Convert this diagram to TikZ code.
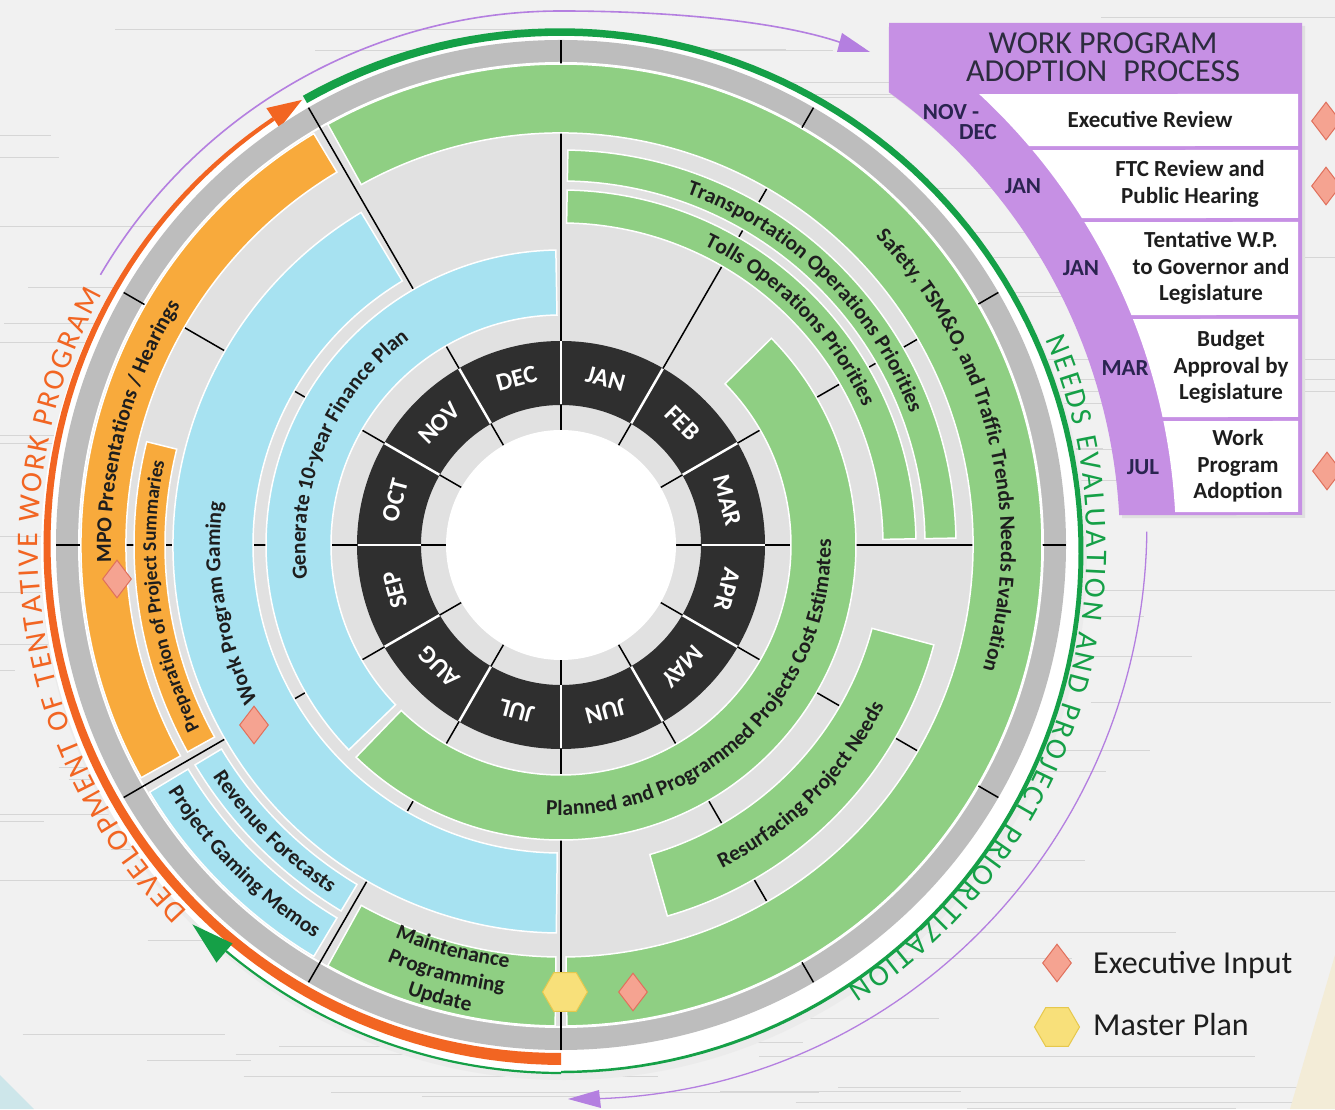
\documentclass[tikz,border=0pt]{standalone}
\usepackage{fontspec}
\setmainfont{Carlito}
\usetikzlibrary{decorations.text,shapes.geometric}
\definecolor{bandgreen}{HTML}{8FCF83}
\definecolor{bandblue}{HTML}{A7E2F1}
\definecolor{bandorange}{HTML}{F8AA3C}
\definecolor{basegray}{HTML}{E1E1E1}
\definecolor{ringgray}{HTML}{BDBDBD}
\definecolor{monthblack}{HTML}{2F2F2F}
\definecolor{boxpurple}{HTML}{C690E4}
\definecolor{linepurple}{HTML}{B47FE0}
\definecolor{arcgreen}{HTML}{15A047}
\definecolor{arcorange}{HTML}{F26522}
\definecolor{navy}{HTML}{2A2450}
\definecolor{headc}{HTML}{2C2C3E}
\definecolor{txtdark}{HTML}{1E1E1E}
\definecolor{woodbg}{HTML}{F1F1F1}
\definecolor{diafill}{HTML}{F5A391}
\definecolor{diadraw}{HTML}{E0705C}
\definecolor{hexfill}{HTML}{F8E07A}
\definecolor{hexdraw}{HTML}{E6C84C}
\definecolor{cornerblue}{HTML}{CDE6EA}
\definecolor{cornerbeige}{HTML}{F3ECD7}
\newcommand\bandfont{\fontsize{21.5}{21.5}\selectfont\bfseries}
\newcommand\smallbandfont{\fontsize{19.5}{19.5}\selectfont\bfseries}
\newcommand\outerfont{\fontsize{30}{30}\selectfont}
\newcommand\band[5]{\filldraw[fill=#5,draw=white,line width=1.5] (#3:#2) arc[start angle=#3,end angle=#4,radius=#2] -- (#4:#1) arc[start angle=#4,end angle=#3,radius=#1] -- cycle;}
\newcommand\arctext[5]{\path[decorate,decoration={text along path,text align=center,text color=txtdark,text={|#4|#5}}] (#2:#1) arc[start angle=#2,end angle=#3,radius=#1];}
\tikzset{
 monthtxt/.style={text=white,font=\fontsize{25}{25}\selectfont\bfseries,inner sep=0},
 boxmonth/.style={text=navy,font=\fontsize{23}{23}\selectfont\bfseries,inner sep=0},
 rowtxt/.style={text=txtdark,font=\fontsize{23}{26.5}\selectfont\bfseries,align=center,inner sep=0},
 headtxt/.style={text=headc,font=\fontsize{32}{32}\selectfont,inner sep=0},
 legtxt/.style={text=txtdark,font=\fontsize{32}{32}\selectfont,anchor=base west,inner sep=0},
 execdia/.style={diamond,draw=diadraw,fill=diafill,line width=1,minimum width=29,minimum height=38,inner sep=0},
 masterhex/.style={regular polygon,regular polygon sides=6,draw=hexdraw,fill=hexfill,line width=1,minimum size=45,inner sep=0}
}
\begin{document}
\begin{tikzpicture}[x=1pt,y=1pt]
\useasboundingbox (0,0) rectangle (1335,1109);
\fill[woodbg] (0,0) rectangle (1335,1109);
\pgfmathsetseed{11}
\foreach \i in {1,...,110}{
 \pgfmathsetmacro\yy{rnd*1109}
 \pgfmathsetmacro\xa{rnd*1335-200}
 \pgfmathsetmacro\ln{100+rnd*500}
 \draw[black!16,line width=0.7] (\xa,\yy) -- ++(\ln,0);
}
\fill[cornerblue] (0,0) -- (0,34) -- (34,0) -- cycle;
\fill[cornerbeige] (1335,154) -- (1335,0) -- (1290,0) -- cycle;
\begin{scope}[shift={(561,564)}]
 % white backing disc
 \fill[black!8] (3,-12) circle[radius=523];
 \fill[white] (0,-7) circle[radius=520];
 % orange tapered arc
 \fill[arcorange] plot[domain=270:124,samples=90] ({(514+(2+4*(\x-124)/146))*cos(\x)},{(514+(2+4*(\x-124)/146))*sin(\x)}) -- plot[domain=124:270,samples=90] ({(514-(2+4*(\x-124)/146))*cos(\x)},{(514-(2+4*(\x-124)/146))*sin(\x)}) -- cycle;
 \fill[arcorange] (120.2:515) -- (124:503) -- (124:527) -- cycle;
 % green tapered arc
 \begin{scope}[shift={(0,-7)}]
  \fill[arcgreen] plot[domain=119.5:-90,samples=120] ({(520+(1.2+3*(\x+90)/209.5))*cos(\x)},{(520+(1.2+3*(\x+90)/209.5))*sin(\x)}) -- plot[domain=-90:119.5,samples=120] ({(520-(1.2+3*(\x+90)/209.5))*cos(\x)},{(520-(1.2+3*(\x+90)/209.5))*sin(\x)}) -- cycle;
  \draw[arcgreen,line width=2.2] (-90:521) arc[start angle=-90,end angle=-130,radius=521];
  \fill[arcgreen] (225.3:524) -- (230:511) -- (230:536) -- cycle;
 \end{scope}
 % rings
 \fill[ringgray] (0,0) circle[radius=505];
 \filldraw[fill=basegray,draw=white,line width=2] (0,0) circle[radius=482];
 \foreach \a in {0,30,...,330} \draw[black,line width=1.5] (\a:115) -- (\a:505);
 \fill[monthblack,even odd rule] (0,0) circle[radius=204] (0,0) circle[radius=140];
 \foreach \a in {0,30,...,330} \draw[white,line width=2.5] (\a:140.5) -- (\a:203.5);
 \fill[white] (0,0) circle[radius=115];
 % bands
 \band{230}{295}{91}{224}{bandblue}
 \band{230}{295}{-134}{44.5}{bandgreen}
 \band{308}{388}{121}{269.3}{bandblue}
 \band{322}{355}{1}{89}{bandgreen}
 \band{364}{395}{1}{89}{bandgreen}
 \band{322}{386}{-74}{-15}{bandgreen}
 \band{435}{480}{121}{209}{bandorange}
 \band{396}{427}{166}{209}{bandorange}
 \band{396}{427}{211}{239}{bandblue}
 \band{435}{480}{211}{239}{bandblue}
 \band{412}{481}{241}{269.3}{bandgreen}
 \band{412}{481}{-89.3}{119}{bandgreen}
 % band labels
 \arctext{255.5}{200}{114}{\bandfont}{Generate 10-year Finance Plan}
 \arctext{270}{254}{374}{\bandfont}{Planned and Programmed Projects Cost Estimates}
 \arctext{341}{230}{150}{\bandfont}{Work Program Gaming}
 \arctext{450}{205}{125}{\bandfont}{MPO Presentations / Hearings}
 \arctext{405}{217}{158}{\smallbandfont}{Preparation of Project Summaries}
 \arctext{418}{205}{245}{\bandfont}{Revenue Forecasts}
 \arctext{464}{205}{245}{\bandfont}{Project Gaming Memos}
 \arctext{426}{235}{275}{\bandfont}{Maintenance}
 \arctext{451}{235}{275}{\bandfont}{Programming}
 \arctext{475}{235}{275}{\bandfont}{Update}
 \arctext{361}{285}{345}{\bandfont}{Resurfacing Project Needs}
 \arctext{373}{82}{9}{\bandfont}{Transportation Operations Priorities}
 \arctext{332}{82}{7}{\bandfont}{Tolls Operations Priorities}
 \arctext{440}{62}{-34}{\bandfont}{Safety, TSM{\&}O, and Traffic Trends Needs Evaluation}
 % months
 \foreach \a/\m in {75/JAN,45/FEB,15/MAR,-15/APR,-45/MAY,-75/JUN,-105/JUL,-135/AUG,-165/SEP,165/OCT,135/NOV,105/DEC}
  \node[monthtxt,rotate=\a-90] (m\m) at (\a:172) {\m};
 % markers on circle
 \node[execdia] (ei1) at (-444,-34) {};
 \node[execdia] (ei2) at (-307,-180) {};
 \node[execdia] (ei3) at (72,-447) {};
 \node[masterhex] (mp1) at (4,-447) {};
 % outer texts
 \path[decorate,decoration={text along path,text align={fit to path},text color=arcorange,text={|\outerfont|DEVELOPMENT OF TENTATIVE WORK PROGRAM}}] (224.5:523) arc[start angle=224.5,end angle=151.4,radius=523];
 \path[decorate,decoration={text along path,text align={fit to path},text color=arcgreen,text={|\outerfont|NEEDS EVALUATION AND PROJECT PRIORITIZATION}}] (23:526) arc[start angle=23,end angle=-57,radius=526];
 % purple lines
 \draw[linepurple,line width=1.6] (149.6:534) arc[start angle=149.6,end angle=90,radius=534] .. controls (119,534) and (224,522) .. (281,502);
 \fill[linepurple] (281,512) -- (276,493) -- (309,493) -- cycle;
 \draw[linepurple,line width=1.3] plot[domain=1.3:-86,samples=80] ({(586-31*(1.3-\x)/87.3)*cos(\x)},{(586-31*(1.3-\x)/87.3)*sin(\x)});
 \fill[linepurple] (7,-554) -- (38,-545) -- (40,-563) -- cycle;
 % purple box
 \begin{scope}[shift={(3,-3)}]
  \fill[black!12] (3.076:559) arc[start angle=3.076,end angle=54.1,radius=559] -- (328,522) -- (741,522) -- (741,30) -- cycle;
 \end{scope}
 \fill[boxpurple] (3.076:559) arc[start angle=3.076,end angle=54.1,radius=559] -- (328,522) -- (741,522) -- (741,30) -- cycle;
 \foreach \t/\b in {451/399,395/327,323/230,226/128,124/33}
  \fill[white] ({asin(\b/615)}:615) arc[start angle={asin(\b/615)},end angle={asin(\t/615)},radius=615] -- (737,\t) -- (737,\b) -- cycle;
 \node[headtxt] (hd1) at (542,502) {WORK PROGRAM};
 \node[headtxt] (hd2) at (542,474) {ADOPTION\enspace PROCESS};
 \node[boxmonth] (bm0a) at (390,433) {NOV -};
 \node[boxmonth] (bm0b) at (417,413) {DEC};
 \node[boxmonth] (bm1) at (462,359) {JAN};
 \node[boxmonth] (bm2) at (520,277) {JAN};
 \node[boxmonth] (bm3) at (564,177) {MAR};
 \node[boxmonth] (bm4) at (582,78) {JUL};
 \node[rowtxt] (r1) at (589,425) {Executive Review};
 \node[rowtxt] (r2) at (629,361) {FTC Review and\\Public Hearing};
 \node[rowtxt] (r3) at (650,277) {Tentative W.P.\\to Governor and\\Legislature};
 \node[rowtxt] (r4) at (670,178) {Budget\\Approval by\\Legislature};
 \node[rowtxt] (r5) at (677,79) {Work\\Program\\Adoption};
 \node[execdia] (ei4) at (765,424) {};
 \node[execdia] (ei5) at (765,359) {};
 \node[execdia] (ei6) at (766,74) {};
 % legend
 \node[execdia] (legd) at (496,-418) {};
 \node[legtxt] (legdt) at (532,-428) {Executive Input};
 \node[masterhex] (legh) at (496,-482) {};
 \node[legtxt] (leght) at (532,-490) {Master Plan};
\end{scope}
\end{tikzpicture}
\end{document}
